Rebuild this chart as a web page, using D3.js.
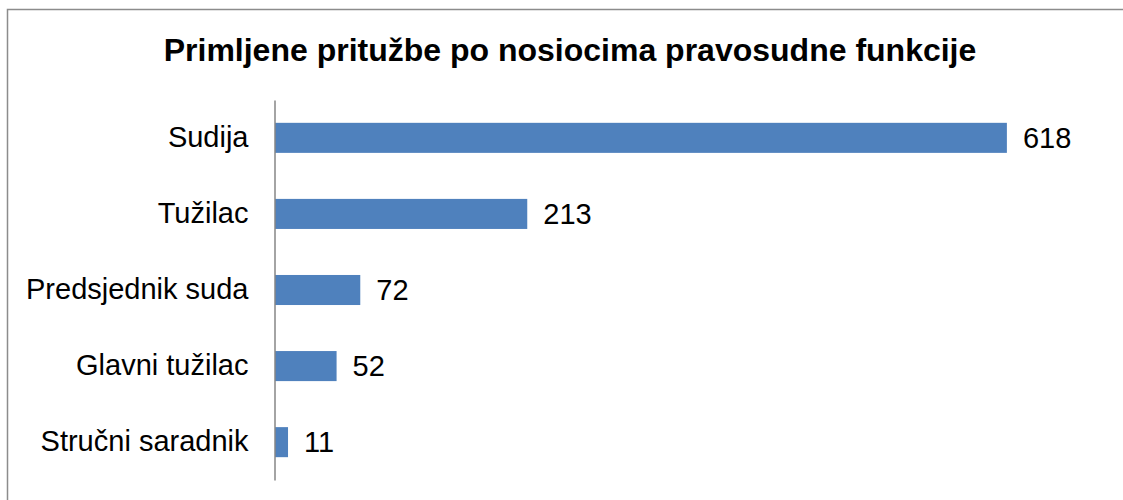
<!DOCTYPE html>
<html>
<head>
<meta charset="utf-8">
<script src="https://cdn.jsdelivr.net/npm/d3@7"></script>
<style>
  body { margin: 0; background: #fff; }
  svg { display: block; }
</style>
</head>
<body>
<svg id="chart" width="1123" height="500"></svg>
<script>
// data
const categories = ["Sudija", "Tužilac", "Predsjednik suda", "Glavni tužilac", "Stručni saradnik"];
const values = [618, 213, 72, 52, 11];
const title = "Primljene pritužbe po nosiocima pravosudne funkcije";

const svg = d3.select("#chart");
const font = "'Liberation Sans', Arial, sans-serif";

// outer frame (right and bottom edges run off the picture)
svg.append("rect")
    .attr("x", 7.5).attr("y", 9.5)
    .attr("width", 1300).attr("height", 700)
    .attr("fill", "#fff")
    .attr("stroke", "#8c8c8c")
    .attr("stroke-width", 1.5);

svg.append("text")
    .attr("x", 570).attr("y", 61)
    .attr("text-anchor", "middle")
    .attr("font-family", font)
    .attr("font-weight", "bold")
    .attr("font-size", 32)
    .attr("fill", "#000")
    .text(title);

const x = d3.scaleLinear().domain([0, 700]).range([275, 1104]);
const y = d3.scaleBand().domain(categories).range([100, 480]).paddingInner(0.605).paddingOuter(0.3);

// bars
svg.append("g")
    .selectAll("rect")
    .data(values)
    .join("rect")
    .attr("x", x(0))
    .attr("y", (d, i) => y(categories[i]))
    .attr("width", d => x(d) - x(0))
    .attr("height", y.bandwidth())
    .attr("fill", "#4f81bd");

// value labels
svg.append("g")
    .selectAll("text")
    .data(values)
    .join("text")
    .attr("x", d => x(d) + 16)
    .attr("y", (d, i) => y(categories[i]) + y.bandwidth() / 2)
    .attr("dy", "0.35em")
    .attr("font-family", font)
    .attr("font-size", 29)
    .attr("fill", "#000")
    .text(d => d);

// category axis
const yAxis = d3.axisLeft(y).tickSize(0).tickPadding(26);
const ga = svg.append("g")
    .attr("transform", `translate(${x(0) - 0.5},0)`)
    .call(yAxis);
ga.select(".domain").attr("stroke", "#868686").attr("stroke-width", 1.5);
ga.selectAll("text")
    .attr("font-family", font)
    .attr("font-size", 29)
    .attr("fill", "#000");
</script>
</body>
</html>
